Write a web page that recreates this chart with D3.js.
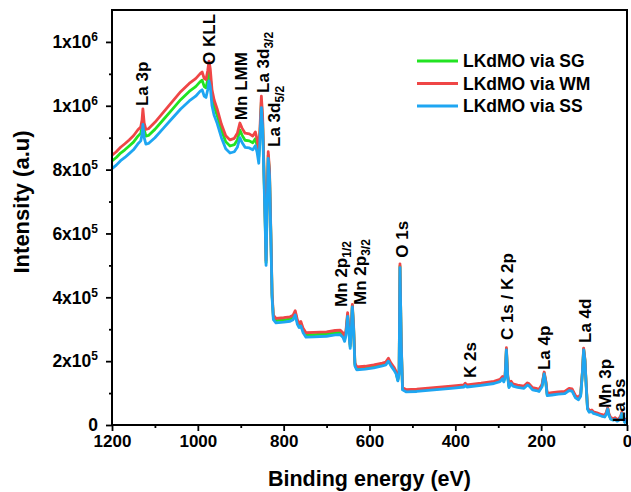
<!DOCTYPE html>
<html>
<head>
<meta charset="utf-8">
<script src="https://cdn.jsdelivr.net/npm/d3@7"></script>
<style>
body { margin: 0; background: #fff; }
text { font-family: "Liberation Sans", Arial, sans-serif; font-weight: bold; fill: #000; }
</style>
</head>
<body>
<svg id="chart" width="631" height="492"></svg>
<script>
// binding energy (eV), shared by the three spectra
var energy = [1200,1190,1180,1170,1160,1150,1140,1133,1130,1128,1125,1121,1115,1100,1080,1060,1040,1020,1005,995,
  990,985,981,977,974,971,967,962,955,945,935,925,915,908,902,897,890,880,872,866,
  862,858,855,852,849,846,843,841,839,836,833,830,827,824,818,800,785,778,773,768,
  764,760,755,748,730,700,680,668,662,658,655,651,648,645,642,640,637,634,630,610,
  590,570,562,556,550,543,538,534,531,529,526,523,515,490,450,410,380,377,373,340,
  310,296,290,287,284,281,278,275,270,266,255,240,232,228,220,212,205,198,193,189,
  186,175,160,145,135,128,120,113,108,104,101,98,95,92,88,82,78,70,60,52,
  48,45,42,38,32,28,23,19,15,12,9,5,2,0];

// intensities in counts
var sgVals = [827e3,838e3,852e3,862e3,874e3,886e3,904e3,914e3,934e3,966e3,925e3,905e3,907e3,926e3,957e3,988e3,1019e3,1045e3,1060e3,1075e3,
  1080e3,1060e3,1056e3,1082e3,1110e3,1090e3,1028e3,997e3,970e3,923e3,887e3,874e3,878e3,893e3,924e3,908e3,892e3,890e3,884e3,897e3,
  876e3,840e3,918e3,1012e3,948e3,795e3,632e3,508e3,660e3,845e3,790e3,608e3,406e3,337e3,327e3,329e3,332e3,337e3,352e3,322e3,
  312e3,317e3,297e3,282e3,283e3,285e3,289e3,290e3,282e3,269e3,287e3,346e3,296e3,246e3,316e3,375e3,305e3,190e3,177e3,179e3,
  183e3,189e3,192e3,204e3,189e3,176e3,164e3,141e3,164e3,498e3,254e3,113e3,107e3,108e3,113e3,118e3,122e3,127e3,122e3,127e3,
  133e3,139e3,149e3,138e3,153e3,238e3,153e3,120e3,133e3,125e3,121e3,118e3,128e3,125e3,113e3,111e3,108e3,123e3,163e3,133e3,
  95e3,97e3,100e3,101e3,111e3,109e3,88e3,82e3,93e3,163e3,238e3,203e3,123e3,52e3,42e3,44e3,38e3,35e3,30e3,27e3,
  37e3,52e3,32e3,20e3,17e3,20e3,14e3,17e3,24e3,38e3,22e3,10e3,17e3,8e3];

var wmVals = [845e3,856e3,870e3,881e3,893e3,906e3,924e3,934e3,955e3,990e3,946e3,926e3,928e3,948e3,980e3,1012e3,1044e3,1070e3,1085e3,1100e3,
  1106e3,1085e3,1082e3,1110e3,1140e3,1115e3,1050e3,1018e3,990e3,942e3,906e3,893e3,898e3,914e3,946e3,930e3,914e3,912e3,905e3,918e3,
  896e3,858e3,936e3,1030e3,965e3,810e3,643e3,515e3,670e3,856e3,800e3,616e3,412e3,344e3,334e3,336e3,339e3,344e3,358e3,329e3,
  319e3,324e3,304e3,289e3,290e3,292e3,296e3,297e3,289e3,276e3,294e3,352e3,302e3,252e3,322e3,378e3,310e3,195e3,182e3,184e3,
  188e3,194e3,197e3,209e3,194e3,181e3,168e3,145e3,168e3,505e3,258e3,117e3,111e3,112e3,117e3,122e3,126e3,131e3,126e3,131e3,
  137e3,143e3,152e3,142e3,157e3,242e3,157e3,124e3,137e3,129e3,125e3,122e3,132e3,129e3,117e3,115e3,112e3,127e3,166e3,137e3,
  99e3,101e3,104e3,105e3,115e3,113e3,92e3,86e3,97e3,166e3,241e3,206e3,126e3,55e3,45e3,47e3,41e3,38e3,33e3,30e3,
  40e3,54e3,35e3,23e3,20e3,23e3,17e3,20e3,27e3,40e3,25e3,12e3,19e3,10e3];

var ssVals = [803e3,814e3,828e3,838e3,850e3,862e3,880e3,890e3,910e3,942e3,900e3,880e3,882e3,900e3,930e3,960e3,990e3,1015e3,1030e3,1045e3,
  1050e3,1030e3,1026e3,1050e3,1078e3,1060e3,1000e3,970e3,945e3,900e3,865e3,852e3,856e3,870e3,900e3,885e3,870e3,868e3,862e3,875e3,
  855e3,820e3,900e3,994e3,930e3,780e3,620e3,500e3,650e3,835e3,780e3,600e3,400e3,330e3,320e3,322e3,325e3,330e3,345e3,315e3,
  305e3,310e3,290e3,275e3,276e3,278e3,282e3,283e3,275e3,262e3,280e3,340e3,290e3,240e3,310e3,370e3,300e3,185e3,173e3,175e3,
  179e3,185e3,188e3,200e3,185e3,172e3,160e3,138e3,160e3,493e3,250e3,110e3,104e3,105e3,110e3,115e3,119e3,124e3,119e3,124e3,
  130e3,136e3,145e3,135e3,150e3,235e3,150e3,117e3,130e3,122e3,118e3,115e3,125e3,122e3,110e3,108e3,105e3,120e3,160e3,130e3,
  92e3,94e3,97e3,98e3,108e3,106e3,85e3,79e3,90e3,160e3,235e3,200e3,120e3,50e3,40e3,42e3,36e3,33e3,28e3,25e3,
  35e3,50e3,30e3,18e3,15e3,18e3,12e3,15e3,22e3,36e3,20e3,8e3,15e3,6e3];

var seriesNames = ["LKdMO via SG", "LKdMO via WM", "LKdMO via SS"];
var seriesColors = ["#22e322", "#ef4646", "#1ea6f2"];
var seriesData = [sgVals, wmVals, ssVals];

var xMajor = [1200, 1000, 800, 600, 400, 200, 0];
var xMinor = [1100, 900, 700, 500, 300, 100];
var yMajor = [0, 2e5, 4e5, 6e5, 8e5, 1e6, 1.2e6];
var yMinor = [1e5, 3e5, 5e5, 7e5, 9e5, 1.1e6];
var yTickBase = ["0", "2x10", "4x10", "6x10", "8x10", "1x10", "1x10"];
var yTickExp  = ["",  "5",    "5",    "5",    "5",    "6",    "6"];

// peak labels: text, subscript, energy and intensity at the label foot
var peakText = ["La 3p", "O KLL", "Mn LMM", "La 3d", "La 3d", "Mn 2p", "Mn 2p", "O 1s", "K 2s", "C 1s / K 2p", "La 4p", "La 4d", "Mn 3p", "La 5s"];
var peakSub  = ["", "", "", "3/2", "5/2", "1/2", "3/2", "", "", "", "", "", "", ""];
var peakE    = [1130, 975, 899, 849, 822, 667, 623, 524, 366, 281, 193, 98, 51, 19];
var peakI    = [999e3, 1128e3, 955e3, 1040e3, 871e3, 370e3, 376e3, 524e3, 147e3, 266e3, 172e3, 257e3, 53e3, 9e3];

var svg = d3.select("#chart");
var plotL = 112, plotR = 627, plotT = 10, plotB = 425;

var x = d3.scaleLinear().domain([1200, 0]).range([plotL, plotR]);
var y = d3.scaleLinear().domain([0, 1.3e6]).range([plotB, plotT]);

svg.append("clipPath").attr("id", "clip")
  .append("rect").attr("x", plotL).attr("y", plotT).attr("width", plotR - plotL).attr("height", plotB - plotT);

// spectra
var line = d3.line()
  .x(function(d, i) { return x(energy[i]); })
  .y(function(d) { return y(d); });

svg.append("g").attr("clip-path", "url(#clip)")
  .selectAll("path")
  .data(seriesData)
  .enter().append("path")
    .attr("d", line)
    .attr("fill", "none")
    .attr("stroke", function(d, i) { return seriesColors[i]; })
    .attr("stroke-width", 2.8)
    .attr("stroke-linejoin", "round");

// axes
var xAxis = svg.append("g").attr("transform", "translate(0," + plotB + ")")
  .call(d3.axisBottom(x).tickValues(xMajor).tickSize(6).tickSizeOuter(0).tickPadding(4)
    .tickFormat(function(d) { return d; }));
svg.append("g").attr("transform", "translate(0," + plotB + ")")
  .call(d3.axisBottom(x).tickValues(xMinor).tickSize(3).tickSizeOuter(0).tickFormat(""));
svg.append("g").attr("transform", "translate(" + plotL + ",0)")
  .call(d3.axisLeft(y).tickValues(yMajor).tickSize(6).tickSizeOuter(0).tickFormat(""));
svg.append("g").attr("transform", "translate(" + plotL + ",0)")
  .call(d3.axisLeft(y).tickValues(yMinor).tickSize(3).tickSizeOuter(0).tickFormat(""));

svg.selectAll(".domain").remove();
svg.selectAll(".tick line").attr("stroke", "#000").attr("stroke-width", 1.8);
xAxis.selectAll("text")
  .style("font-size", "17px")
  .style("font-family", "'Liberation Sans', Arial, sans-serif")
  .style("font-weight", "bold")
  .attr("fill", "#000");

// y tick labels with superscripts
var yLab = svg.append("g").selectAll("text")
  .data(yMajor)
  .enter().append("text")
    .attr("x", plotL - 14)
    .attr("y", function(d) { return y(d); })
    .attr("dy", "0.36em")
    .attr("text-anchor", "end")
    .style("font-size", "17.5px");
yLab.append("tspan").text(function(d, i) { return yTickBase[i]; });
yLab.append("tspan")
  .attr("dy", -7)
  .style("font-size", "12px")
  .text(function(d, i) { return yTickExp[i]; });

// frame
svg.append("rect")
  .attr("x", plotL).attr("y", plotT)
  .attr("width", plotR - plotL).attr("height", plotB - plotT)
  .attr("fill", "none").attr("stroke", "#000").attr("stroke-width", 2);

// axis titles
svg.append("text")
  .attr("x", (plotL + plotR) / 2).attr("y", 486)
  .attr("text-anchor", "middle")
  .style("font-size", "21.5px")
  .text("Binding energy (eV)");

svg.append("text")
  .attr("transform", "translate(29,202) rotate(-90)")
  .attr("text-anchor", "middle")
  .style("font-size", "22px")
  .text("Intensity (a.u)");

// peak labels
var pl = svg.append("g").selectAll("text")
  .data(peakText)
  .enter().append("text")
    .attr("transform", function(d, i) { return "translate(" + x(peakE[i]) + "," + y(peakI[i]) + ") rotate(-90)"; })
    .attr("dy", "0.36em")
    .style("font-size", "17px");
pl.append("tspan").text(function(d) { return d; });
pl.append("tspan")
  .attr("dy", 4)
  .style("font-size", "12px")
  .text(function(d, i) { return peakSub[i]; });

// legend
var lg = svg.append("g").selectAll("g")
  .data(seriesNames)
  .enter().append("g")
    .attr("transform", function(d, i) { return "translate(417," + (61 + i * 22.5) + ")"; });
lg.append("line")
  .attr("x1", 0).attr("x2", 41)
  .attr("stroke", function(d, i) { return seriesColors[i]; })
  .attr("stroke-width", 2.8);
lg.append("text")
  .attr("x", 46).attr("dy", "0.36em")
  .style("font-size", "17.5px")
  .text(function(d) { return d; });
</script>
</body>
</html>
